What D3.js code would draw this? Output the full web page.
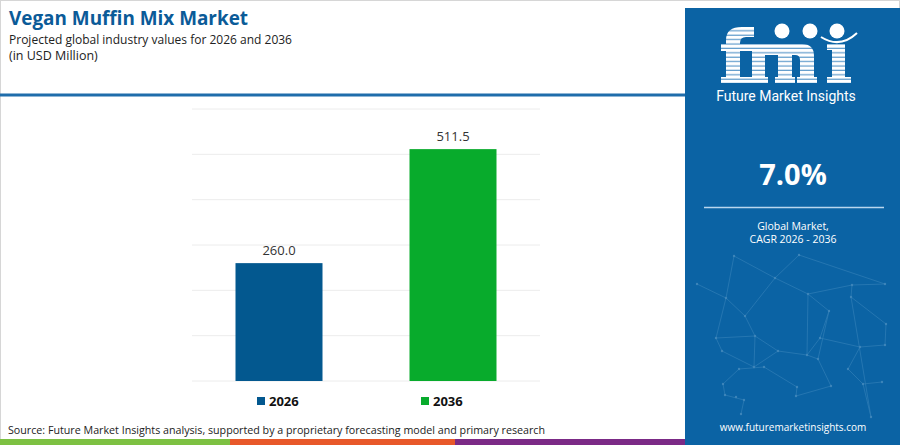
<!DOCTYPE html>
<html>
<head>
<meta charset="utf-8">
<script src="https://cdn.jsdelivr.net/npm/d3@7"></script>
<style>
  html, body { margin: 0; padding: 0; background: #fff; }
  svg { display: block; font-family: "Open Sans", sans-serif; }
</style>
</head>
<body>
<div id="chart"></div>
<script>
var years = ['2026', '2036'];
var values = [260.0, 511.5];
var bar_colors = ['#03588f', '#08ab2c'];
var y_ticks = [0, 100, 200, 300, 400, 500, 600];
var cagr_text = '7.0%';
var cagr_lines = ['Global Market,', 'CAGR 2026 - 2036'];
var footer_colors = ['#7dc142', '#e8582a', '#7b2a86'];

var panel_color = '#0b63a4';
var title_color = '#0b5b98';

var W = 900, H = 445;

var svg = d3.select('#chart').append('svg')
    .attr('width', W).attr('height', H);

// outer frame
svg.append('rect').attr('x', 0.5).attr('y', 0.5).attr('width', W - 1).attr('height', H - 1)
    .attr('fill', 'none').attr('stroke', '#d6d6d6');

// titles
svg.append('text').attr('x', 9).attr('y', 25)
    .attr('fill', title_color).attr('font-size', 19.5).attr('font-weight', 700)
    .attr('textLength', 239).attr('lengthAdjust', 'spacingAndGlyphs')
    .text('Vegan Muffin Mix Market');
svg.append('text').attr('x', 9).attr('y', 44)
    .attr('fill', '#222').attr('font-size', 12.5)
    .attr('textLength', 283).attr('lengthAdjust', 'spacingAndGlyphs')
    .text('Projected global industry values for 2026 and 2036');
svg.append('text').attr('x', 9).attr('y', 60)
    .attr('fill', '#222').attr('font-size', 12.5)
    .text('(in USD Million)');

svg.append('rect').attr('x', 0).attr('y', 93.5).attr('width', 686).attr('height', 3)
    .attr('fill', '#1f6dab');

// chart
var x = d3.scaleBand().domain(years).range([192, 540]).paddingInner(0.5).paddingOuter(0.25);
var y = d3.scaleLinear().domain([0, 600]).range([381, 109]);

var grid = svg.append('g').attr('class', 'grid');
grid.selectAll('line').data(y_ticks).enter().append('line')
    .attr('x1', 192).attr('x2', 540)
    .attr('y1', function(d) { return y(d); }).attr('y2', function(d) { return y(d); })
    .attr('stroke', '#ececec').attr('stroke-width', 1);

svg.selectAll('rect.bar').data(values).enter().append('rect')
    .attr('class', 'bar')
    .attr('x', function(d, i) { return x(years[i]); })
    .attr('y', function(d) { return y(d); })
    .attr('width', x.bandwidth())
    .attr('height', function(d) { return y(0) - y(d); })
    .attr('fill', function(d, i) { return bar_colors[i]; });

svg.selectAll('text.val').data(values).enter().append('text')
    .attr('class', 'val')
    .attr('x', function(d, i) { return x(years[i]) + x.bandwidth() / 2; })
    .attr('y', function(d) { return y(d) - 8; })
    .attr('text-anchor', 'middle').attr('font-size', 13).attr('fill', '#333')
    .text(function(d) { return d.toFixed(1); });

// legend
var legend_x = [257, 421];
var lg = svg.selectAll('g.legend').data(years).enter().append('g')
    .attr('class', 'legend')
    .attr('transform', function(d, i) { return 'translate(' + legend_x[i] + ',397)'; });
lg.append('rect').attr('width', 8).attr('height', 8)
    .attr('fill', function(d, i) { return bar_colors[i]; });
lg.append('text').attr('x', 12).attr('y', 8.5)
    .attr('font-size', 13).attr('font-weight', 700).attr('fill', '#111')
    .text(function(d) { return d; });

// source
svg.append('text').attr('x', 8).attr('y', 434)
    .attr('font-size', 11).attr('fill', '#222')
    .attr('textLength', 537).attr('lengthAdjust', 'spacingAndGlyphs')
    .text('Source: Future Market Insights analysis, supported by a proprietary forecasting model and primary research');

// footer stripes
var stripe_x = [0, 230, 455];
var stripe_w = [230, 225, 231];
svg.selectAll('rect.stripe').data(footer_colors).enter().append('rect')
    .attr('class', 'stripe')
    .attr('x', function(d, i) { return stripe_x[i]; }).attr('y', 439)
    .attr('width', function(d, i) { return stripe_w[i]; }).attr('height', 6)
    .attr('fill', function(d) { return d; });

// right panel
var panel = svg.append('g');
panel.append('rect').attr('x', 685).attr('y', 8).attr('width', 215).attr('height', 437)
    .attr('fill', panel_color);

// network pattern in the lower part
var nodes = [[734,256],[799,255],[775,278],[697,284],[726,298],[808,294],[852,285],[885,284],[851,297],[745,316],[829,311],[716,338],[755,336],[820,338],[886,324],[722,351],[754,367],[778,351],[807,355],[860,347],[885,345],[723,384],[739,369],[764,367],[818,359],[848,369],[882,382],[725,395],[744,400],[797,387],[831,386],[863,384],[741,414],[796,396],[871,417],[736,397]];
var links = [[0,2],[0,4],[1,2],[1,7],[2,5],[2,9],[3,4],[4,9],[4,11],[5,6],[5,10],[6,7],[6,8],[8,14],[9,12],[10,13],[11,15],[11,12],[12,17],[13,19],[13,18],[14,20],[15,16],[16,17],[17,18],[18,24],[19,20],[19,25],[21,22],[22,23],[23,29],[24,30],[25,31],[26,31],[27,28],[28,32],[29,33],[30,33],[31,34],[8,34],[12,16],[5,18],[10,24],[21,27]];
var net = panel.append('g').attr('opacity', 0.25);
net.selectAll('line').data(links).enter().append('line')
    .attr('x1', function(d) { return nodes[d[0]][0]; }).attr('y1', function(d) { return nodes[d[0]][1]; })
    .attr('x2', function(d) { return nodes[d[1]][0]; }).attr('y2', function(d) { return nodes[d[1]][1]; })
    .attr('stroke', '#9fd0ef').attr('stroke-width', 0.7);
net.selectAll('circle').data(nodes).enter().append('circle')
    .attr('cx', function(d) { return d[0]; }).attr('cy', function(d) { return d[1]; })
    .attr('r', 1.2).attr('fill', '#cfe8f8');

// logo: striped "fmi" letter shapes
var defs = svg.append('defs');
var pat = defs.append('pattern').attr('id', 'stripes').attr('patternUnits', 'userSpaceOnUse')
    .attr('width', 10).attr('height', 4.4).attr('y', 27);
pat.append('rect').attr('width', 10).attr('height', 4.4).attr('fill', '#ffffff');
pat.append('rect').attr('y', 3.2).attr('width', 10).attr('height', 1.2).attr('fill', '#5f9bcb');

var logo_shapes = [
    // f
    'M726,83 V40 Q726,27 742,27 H754 V37 H746 Q740,37 740,43 V83 Z',
    'M721,44 H753 V51 H721 Z',
    'M721,77 H750 V83 H721 Z',
    // m
    'M750,44 H802 Q814,44 814,56 V83 H800 V60 Q800,55 795,55 H792 V83 H778 V55 H765 V83 H752 V51 H750 Z',
    'M748,77 H768 V83 H748 Z',
    'M775,77 H795 V83 H775 Z',
    'M797,77 H817 V83 H797 Z',
    // i
    'M827,44 H845 V83 H832 V50 H827 Z',
    'M827,77 H851 V83 H827 Z'
];
panel.append('g').selectAll('path').data(logo_shapes).enter().append('path')
    .attr('d', function(d) { return d; })
    .attr('fill', 'url(#stripes)');
var globes = [782, 810, 837];
panel.selectAll('circle.globe').data(globes).enter().append('circle')
    .attr('class', 'globe')
    .attr('cx', function(d) { return d; }).attr('cy', 31).attr('r', 7.5)
    .attr('fill', '#fff');
panel.append('path').attr('d', 'M821,37 Q840,49 857,33')
    .attr('fill', 'none').attr('stroke', '#fff').attr('stroke-width', 2);
panel.append('text').attr('x', 786).attr('y', 101)
    .attr('text-anchor', 'middle').attr('font-size', 14).attr('fill', '#fff')
    .attr('font-family', 'Roboto, sans-serif')
    .text('Future Market Insights');

panel.append('text').attr('x', 793).attr('y', 185)
    .attr('text-anchor', 'middle').attr('font-size', 29).attr('font-weight', 700).attr('fill', '#fff')
    .text(cagr_text);
panel.append('line').attr('x1', 704).attr('x2', 884).attr('y1', 207.5).attr('y2', 207.5)
    .attr('stroke', '#b9d6ee').attr('stroke-width', 1.5);
panel.selectAll('text.cagr').data(cagr_lines).enter().append('text')
    .attr('class', 'cagr')
    .attr('x', 793).attr('y', function(d, i) { return 230 + i * 13; })
    .attr('text-anchor', 'middle').attr('font-size', 10.5).attr('fill', '#fff')
    .text(function(d) { return d; });
panel.append('text').attr('x', 793).attr('y', 431)
    .attr('text-anchor', 'middle').attr('font-size', 10).attr('fill', '#fff')
    .text('www.futuremarketinsights.com');
</script>
</body>
</html>
